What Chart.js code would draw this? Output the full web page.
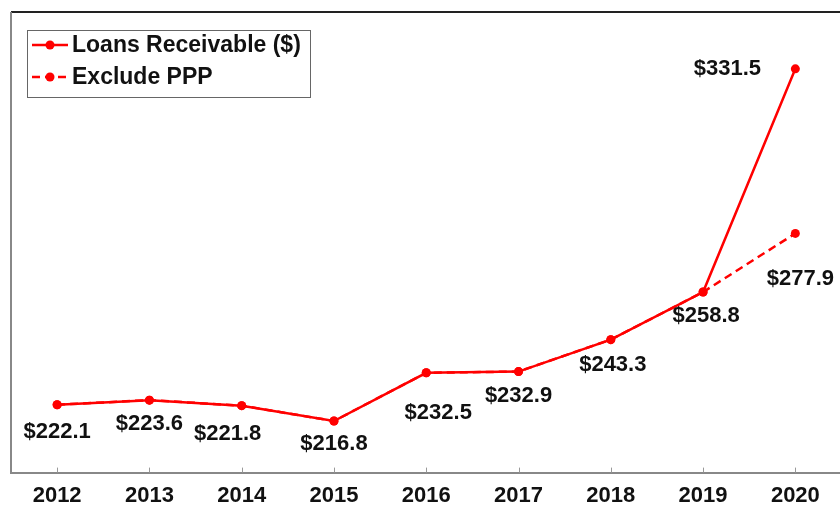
<!DOCTYPE html>
<html>
<head>
<meta charset="utf-8">
<script src="https://cdn.jsdelivr.net/npm/chart.js@4/dist/chart.umd.min.js"></script>
<style>
  html, body { margin: 0; padding: 0; background: #fff; overflow: hidden; }
  #wrap { width: 846px; height: 519px; position: relative; }
</style>
</head>
<body>
<div id="wrap"><canvas id="loanChart"></canvas></div>
<script>
const years = ["2012", "2013", "2014", "2015", "2016", "2017", "2018", "2019", "2020"];
const loans = [222.1, 223.6, 221.8, 216.8, 232.5, 232.9, 243.3, 258.8, 331.5];
const excludePPP = [222.1, 223.6, 221.8, 216.8, 232.5, 232.9, 243.3, 258.8, 277.9];
const seriesNames = ["Loans Receivable ($)", "Exclude PPP"];

// where each value label sits relative to its point (px)
const labelOffsets = [[0, 27], [0, 24], [-14, 28], [0, 23], [12, 40], [0, 24], [2, 25], [3, 24], [-68, 0]];
const excludeOffsets = { 8: [5, 46] };

const boldFont = "bold 22px 'Liberation Sans', Arial, sans-serif";
const legendFont = "bold 23px 'Liberation Sans', Arial, sans-serif";

const decorPlugin = {
    id: "decor",
    afterDatasetsDraw(chart) {
        const ctx = chart.ctx;
        const area = chart.chartArea;
        const xScale = chart.scales.x;

        ctx.save();
        // frame lines
        ctx.strokeStyle = "#222";
        ctx.lineWidth = 2;
        ctx.beginPath();
        ctx.moveTo(area.left, area.top);
        ctx.lineTo(chart.width, area.top);
        ctx.stroke();
        ctx.strokeStyle = "#888";
        ctx.beginPath();
        ctx.moveTo(area.left, area.top);
        ctx.lineTo(area.left, area.bottom);
        ctx.stroke();

        // small inward ticks on x axis
        ctx.lineWidth = 1;
        ctx.strokeStyle = "#999";
        years.forEach((y, i) => {
            const px = Math.round(xScale.getPixelForValue(i)) + 0.5;
            ctx.beginPath();
            ctx.moveTo(px, area.bottom);
            ctx.lineTo(px, area.bottom - 5);
            ctx.stroke();
        });

        // value labels
        ctx.font = boldFont;
        ctx.fillStyle = "#111";
        ctx.textAlign = "center";
        ctx.textBaseline = "middle";
        const meta0 = chart.getDatasetMeta(0);
        meta0.data.forEach((pt, i) => {
            const off = labelOffsets[i];
            ctx.fillText("$" + loans[i].toFixed(1), pt.x + off[0], pt.y + off[1]);
        });
        const meta1 = chart.getDatasetMeta(1);
        Object.keys(excludeOffsets).forEach(k => {
            const pt = meta1.data[k];
            const off = excludeOffsets[k];
            ctx.fillText("$" + excludePPP[k].toFixed(1), pt.x + off[0], pt.y + off[1]);
        });

        // legend box
        ctx.strokeStyle = "#666";
        ctx.lineWidth = 1;
        ctx.strokeRect(27.5, 30.5, 283, 67);
        ctx.font = legendFont;
        ctx.textAlign = "left";
        chart.data.datasets.forEach((ds, i) => {
            const cy = 45 + i * 32;
            ctx.strokeStyle = ds.borderColor;
            ctx.lineWidth = 2.5;
            ctx.setLineDash(ds.borderDash || []);
            ctx.beginPath();
            ctx.moveTo(32, cy);
            ctx.lineTo(68, cy);
            ctx.stroke();
            ctx.setLineDash([]);
            ctx.fillStyle = ds.pointBackgroundColor;
            ctx.beginPath();
            ctx.arc(50, cy, 4.5, 0, Math.PI * 2);
            ctx.fill();
            ctx.fillStyle = "#111";
            ctx.fillText(ds.label, 72, cy + 1);
        });
        ctx.restore();
    }
};

new Chart(document.getElementById("loanChart"), {
    type: "line",
    data: {
        labels: years,
        datasets: [
            {
                label: seriesNames[0],
                data: loans,
                borderColor: "#ff0000",
                backgroundColor: "#ff0000",
                pointBackgroundColor: "#ff0000",
                pointBorderWidth: 0,
                pointRadius: 4.5,
                borderWidth: 2.5,
                tension: 0
            },
            {
                label: seriesNames[1],
                data: excludePPP,
                borderColor: "#ff0000",
                backgroundColor: "#ff0000",
                pointBackgroundColor: "#ff0000",
                pointBorderWidth: 0,
                pointRadius: 4.5,
                borderWidth: 2.5,
                borderDash: [8, 5],
                tension: 0
            }
        ]
    },
    options: {
        responsive: true,
        maintainAspectRatio: false,
        animation: false,
        layout: { padding: { left: 11, top: 12, right: 4, bottom: 0 } },
        plugins: { legend: { display: false }, tooltip: { enabled: false } },
        scales: {
            x: {
                offset: true,
                grid: { display: false, drawTicks: false },
                border: { display: true, color: "#888", width: 2 },
                ticks: {
                    padding: 10,
                    color: "#111",
                    font: { family: "'Liberation Sans', Arial, sans-serif", size: 22, weight: "bold", lineHeight: 1.2 }
                }
            },
            y: {
                display: false,
                min: 200,
                max: 350
            }
        }
    },
    plugins: [decorPlugin]
});
</script>
</body>
</html>
